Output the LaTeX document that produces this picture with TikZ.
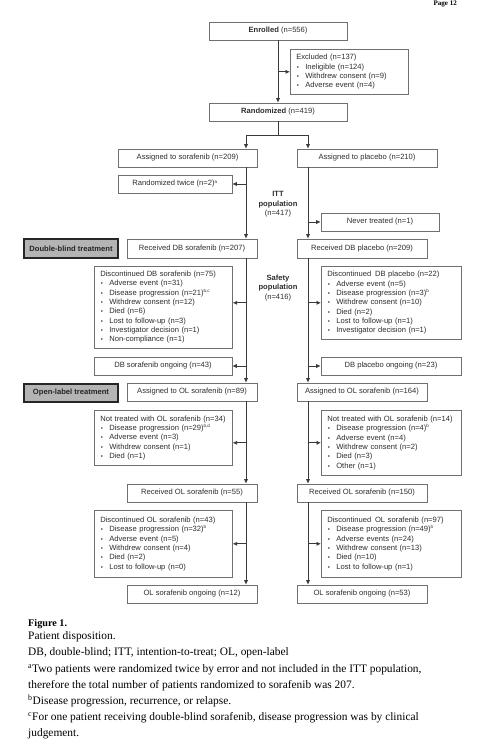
\documentclass[tikz,border=0pt]{standalone}
\usepackage{fontspec}
\setmainfont{Liberation Serif}
\setsansfont{Liberation Sans}
\usetikzlibrary{arrows.meta}
\definecolor{ln}{HTML}{3A3A3A}
\definecolor{bx}{HTML}{707070}
\definecolor{tx}{HTML}{2E2E2E}
\definecolor{gfill}{HTML}{B4B4B4}
\newcommand\itm[1]{\makebox[9pt][l]{\hspace{0.6pt}{\fontsize{6}{6}\selectfont\textbullet}}#1}
\newcommand\sps[1]{\textsuperscript{\fontsize{4.5}{4.5}\selectfont #1}}
\begin{document}
\begin{tikzpicture}[x=1pt,y=-1pt,
  box/.style={draw=bx, line width=0.6pt, inner sep=0pt, text=tx,
    font=\sffamily\fontsize{7.6}{9.33}\selectfont},
  sbox/.style={box, minimum height=18pt},
  lbox/.style={box, anchor=north west, align=left, inner xsep=6pt, inner ysep=4pt},
  gbox/.style={draw=black!85, line width=1.2pt, fill=gfill, inner sep=0pt, text=black!85,
    font=\sffamily\bfseries\fontsize{7.6}{9.33}\selectfont, minimum width=94pt, minimum height=18pt},
  lbl/.style={align=center, text=tx, font=\sffamily\fontsize{7.6}{9.4}\selectfont},
  arr/.style={draw=ln, line width=0.8pt, -{Latex[length=4.5pt,width=4.2pt]}},
  lin/.style={draw=ln, line width=0.8pt},
  captxt/.style={anchor=base west, inner sep=0pt, font=\fontsize{11.4}{16}\selectfont, text=black}
]
\useasboundingbox (0,0) rectangle (502,747);
\fill[white] (0,0) rectangle (502,747);

\node[anchor=north east, inner sep=0pt, font=\bfseries\fontsize{7}{7}\selectfont] (pg) at (457,1) {Page 12};

\coordinate (L) at (246,0);
\coordinate (R) at (308,0);

\node[sbox, minimum width=138pt] (enr) at (278,31) {\textbf{Enrolled} (n=556)};
\node[lbox, text width=106pt, minimum height=45pt] (exc) at (290,49) {Excluded (n=137)\\
\itm{Ineligible (n=124)}\\ \itm{Withdrew consent (n=9)}\\ \itm{Adverse event (n=4)}};
\node[sbox, minimum width=138pt] (rand) at (278,112) {\textbf{Randomized} (n=419)};

\node[sbox, minimum width=139pt] (asor) at (187.5,158) {Assigned to sorafenib (n=209)};
\node[sbox, minimum width=140pt] (aplc) at (367,158) {Assigned to placebo (n=210)};
\node[sbox, minimum width=114pt] (rtw) at (175,184) {Randomized twice (n=2)\sps{a}};
\node[lbl] (itt) at (278,204.5) {\textbf{ITT}\\\textbf{population}\\(n=417)};
\node[sbox, minimum width=118pt] (never) at (380,222) {Never treated (n=1)};

\node[gbox, minimum height=19pt] (dbt) at (71,248.5) {Double-blind treatment};
\node[sbox, minimum width=130pt, minimum height=19pt] (rdbs) at (192,248.5) {Received DB sorafenib (n=207)};
\node[sbox, minimum width=130pt, minimum height=19pt] (rdbp) at (362,248.5) {Received DB placebo (n=209)};

\node[lbox, text width=126pt, minimum height=82pt] (dds) at (94,266) {Discontinued DB sorafenib (n=75)\\
\itm{Adverse event (n=31)}\\ \itm{Disease progression (n=21)\sps{b,c}}\\ \itm{Withdrew consent (n=12)}\\
\itm{Died (n=6)}\\ \itm{Lost to follow-up (n=3)}\\ \itm{Investigator decision (n=1)}\\ \itm{Non-compliance (n=1)}};
\node[lbl] (saf) at (278,288) {\textbf{Safety}\\\textbf{population}\\(n=416)};
\node[lbox, text width=128pt, minimum height=73pt] (ddp) at (321,266) {Discontinued\, DB placebo (n=22)\\
\itm{Adverse event (n=5)}\\ \itm{Disease progression (n=3)\sps{b}}\\ \itm{Withdrew consent (n=10)}\\
\itm{Died (n=2)}\\ \itm{Lost to follow-up (n=1)}\\ \itm{Investigator decision (n=1)}};

\node[sbox, minimum width=138pt] (dbso) at (163,366) {DB sorafenib ongoing (n=43)};
\node[sbox, minimum width=140pt] (dbpo) at (391,366) {DB placebo ongoing (n=23)};

\node[gbox] (olt) at (71,393) {Open-label treatment};
\node[sbox, minimum width=130pt] (aols) at (192,392) {Assigned to OL sorafenib (n=89)};
\node[sbox, minimum width=130pt] (aolp) at (362,392) {Assigned to OL sorafenib (n=164)};

\node[lbox, text width=126pt, minimum height=55pt] (nts) at (94,410) {Not treated with OL sorafenib (n=34)\\
\itm{Disease progression (n=29)\sps{b,d}}\\ \itm{Adverse event (n=3)}\\ \itm{Withdrew consent (n=1)}\\ \itm{Died (n=1)}};
\node[lbox, text width=128pt, minimum height=65pt] (ntp) at (321,410) {Not treated with OL sorafenib (n=14)\\
\itm{Disease progression (n=4)\sps{b}}\\ \itm{Adverse event (n=4)}\\ \itm{Withdrew consent (n=2)}\\ \itm{Died (n=3)}\\ \itm{Other (n=1)}};

\node[sbox, minimum width=130pt] (rols) at (192,493) {Received OL sorafenib (n=55)};
\node[sbox, minimum width=130pt] (rolp) at (362,493) {Received OL sorafenib (n=150)};

\node[lbox, text width=126pt, minimum height=67pt] (dos) at (94,510) {Discontinued OL sorafenib (n=43)\\
\itm{Disease progression (n=32)\sps{b}}\\ \itm{Adverse event (n=5)}\\ \itm{Withdrew consent (n=4)}\\ \itm{Died (n=2)}\\ \itm{Lost to follow-up (n=0)}};
\node[lbox, text width=128pt, minimum height=67pt] (dop) at (321,510) {Discontinued\, OL sorafenib (n=97)\\
\itm{Disease progression (n=49)\sps{b}}\\ \itm{Adverse events (n=24)}\\ \itm{Withdrew consent (n=13)}\\ \itm{Died (n=10)}\\ \itm{Lost to follow-up (n=1)}};

\node[sbox, minimum width=130pt] (ongs) at (192,594) {OL sorafenib ongoing (n=12)};
\node[sbox, minimum width=130pt] (ongp) at (362,594) {OL sorafenib ongoing (n=53)};

% connectors
\draw[arr] (enr.south) -- (rand.north);
\draw[arr] (enr.south |- exc.west) -- (exc.west);
\draw[lin] (rand.south) -- ++(0,14) coordinate (split);
\draw[lin] (split -| L) -- (split -| R);
\draw[arr] (split -| L) -- (L |- asor.north);
\draw[arr] (split -| R) -- (R |- aplc.north);

\draw[arr] (L |- asor.south) -- (L |- rdbs.north);
\draw[arr] (L |- rtw.east) -- (rtw.east);
\draw[arr] (R |- aplc.south) -- (R |- rdbp.north);
\draw[arr] (R |- never.west) -- (never.west);

\draw[arr] (L |- rdbs.south) -- (L |- aols.north);
\draw[arr] (L |- ddp.west) -- (dds.east |- ddp.west);
\draw[arr] (L |- dbso.east) -- (dbso.east);
\draw[arr] (R |- rdbp.south) -- (R |- aolp.north);
\draw[arr] (R |- ddp.west) -- (ddp.west);
\draw[arr] (R |- dbpo.west) -- (dbpo.west);

\draw[arr] (L |- aols.south) -- (L |- rols.north);
\draw[arr] (L |- ntp.west) -- (nts.east |- ntp.west);
\draw[arr] (R |- aolp.south) -- (R |- rolp.north);
\draw[arr] (R |- ntp.west) -- (ntp.west);

\draw[arr] (L |- rols.south) -- (L |- ongs.north);
\draw[arr] (L |- dos.east) -- (dos.east);
\draw[arr] (R |- rolp.south) -- (R |- ongp.north);
\draw[arr] (R |- dop.west) -- (dop.west);

% caption
\node[captxt, font=\bfseries\fontsize{10.2}{12}\selectfont] (c0) at (28,626) {Figure 1.};
\node[captxt] (c1) at (28,639) {Patient disposition.};
\node[captxt] (c2) at (28,655) {DB, double-blind; ITT, intention-to-treat; OL, open-label};
\node[captxt] (c3) at (28,672) {\textsuperscript{a}Two patients were randomized twice by error and not included in the ITT population,};
\node[captxt] (c4) at (28,688) {therefore the total number of patients randomized to sorafenib was 207.};
\node[captxt] (c5) at (28,704) {\textsuperscript{b}Disease progression, recurrence, or relapse.};
\node[captxt] (c6) at (28,720) {\textsuperscript{c}For one patient receiving double-blind sorafenib, disease progression was by clinical};
\node[captxt] (c7) at (28,736) {judgement.};
\end{tikzpicture}
\end{document}
